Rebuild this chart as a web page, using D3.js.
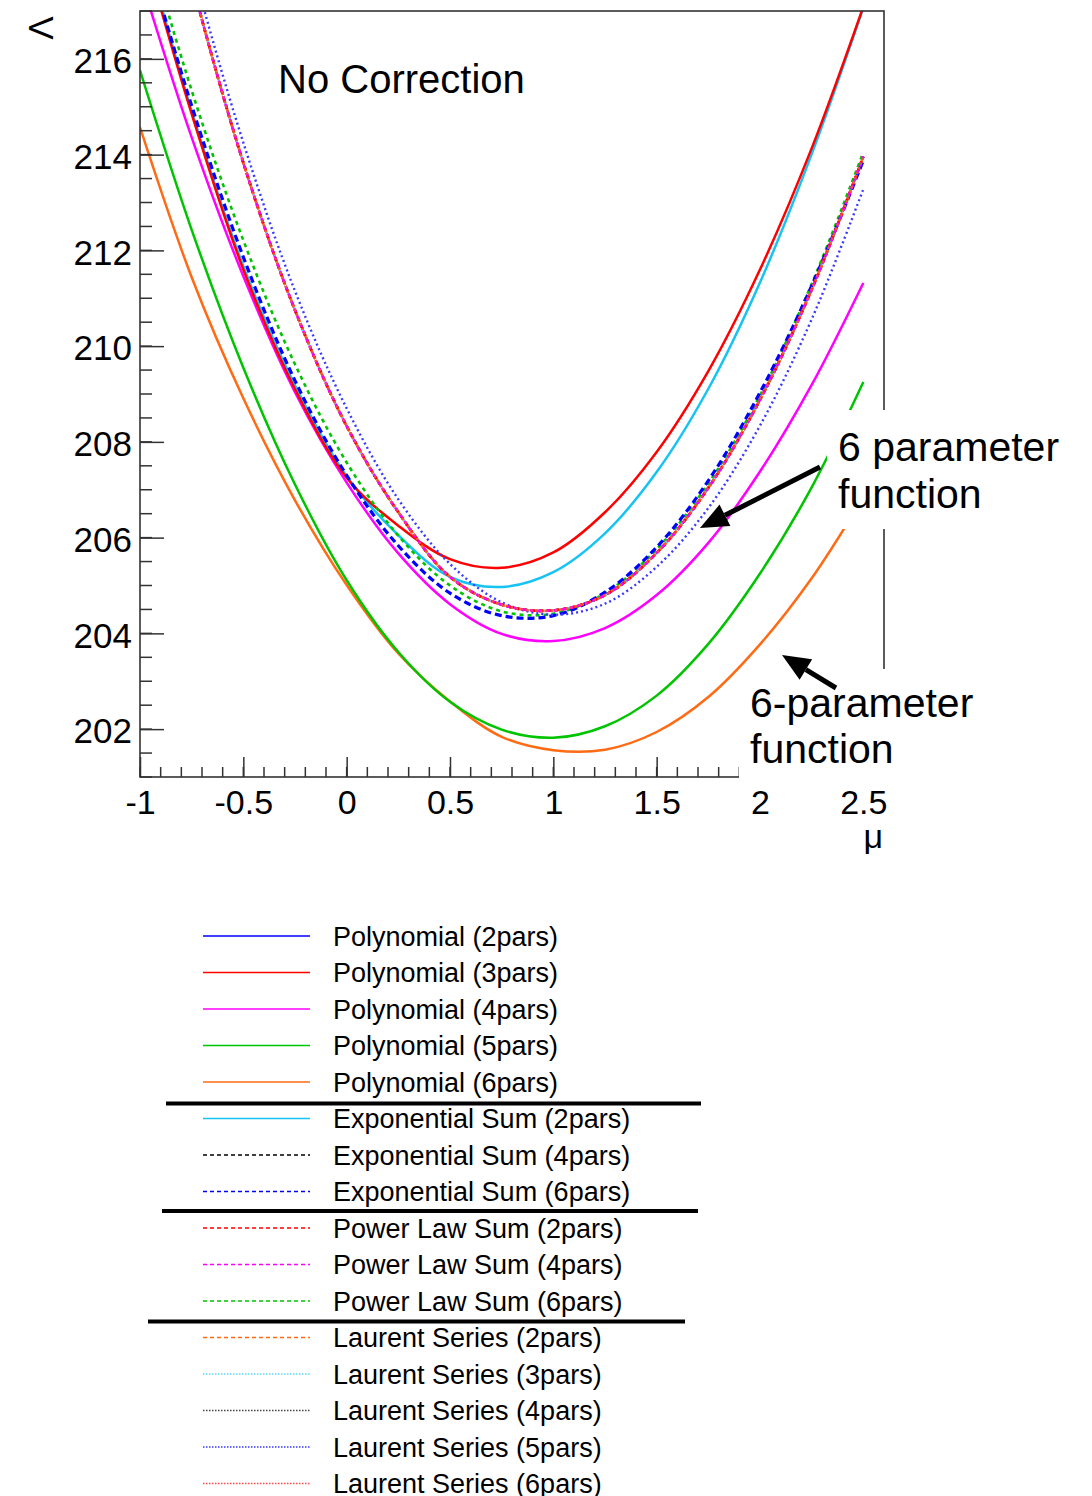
<!DOCTYPE html>
<html>
<head>
<meta charset="utf-8">
<script src="https://cdn.jsdelivr.net/npm/d3@7"></script>
<style>
  body { margin: 0; background: #fff; }
  svg text { font-family: "Liberation Sans", Arial, Helvetica, sans-serif; fill: #000; }
</style>
</head>
<body>
<div id="chart"></div>
<script>
// scan points in mu, shared by all curves
var mu = [-1, -0.75, -0.5, -0.25, 0, 0.25, 0.5, 0.75, 1, 1.25, 1.5, 1.75, 2, 2.25, 2.5];

// Lambda values (values above 217 are cut by the frame)
var poly2 = []; // lies above the plotted range, nothing visible
var poly3 = [218.60, 214.85, 211.60, 209.10, 207.25, 206.25, 205.55, 205.37, 205.69, 206.53, 207.79, 209.48, 211.60, 214.13, 217.09];
var poly4 = [217.74, 214.36, 211.46, 209.04, 207.15, 205.67, 204.61, 203.99, 203.84, 204.11, 204.80, 205.89, 207.38, 209.19, 211.32];
var poly5 = [215.76, 212.43, 209.55, 207.11, 205.11, 203.61, 202.57, 201.99, 201.82, 202.06, 202.70, 203.78, 205.25, 207.05, 209.25];
var poly6 = [214.57, 211.44, 208.91, 206.78, 205.01, 203.58, 202.58, 201.84, 201.56, 201.57, 201.94, 202.67, 203.77, 205.15, 206.84];
var exp2  = [218.73, 214.91, 211.67, 209.18, 207.28, 206.05, 205.18, 204.97, 205.28, 206.09, 207.37, 209.11, 211.33, 214.01, 217.07];
var exp4  = [221.96, 217.62, 213.83, 210.75, 208.33, 206.53, 205.18, 204.60, 204.48, 204.80, 205.68, 207.04, 208.88, 211.18, 213.96];
var exp6  = [218.65, 215.02, 211.86, 209.28, 207.30, 205.83, 204.84, 204.37, 204.37, 204.86, 205.80, 207.19, 209.03, 211.26, 213.88];
var pow2  = [221.96, 217.62, 213.83, 210.75, 208.33, 206.53, 205.18, 204.60, 204.48, 204.80, 205.68, 207.04, 208.88, 211.18, 213.96];
var pow4  = [221.96, 217.62, 213.83, 210.75, 208.33, 206.53, 205.18, 204.60, 204.48, 204.80, 205.68, 207.04, 208.88, 211.18, 213.96];
var pow6  = [218.99, 215.34, 212.21, 209.62, 207.57, 206.04, 205.00, 204.46, 204.41, 204.84, 205.76, 207.13, 208.97, 211.30, 214.05];
var laur2 = [221.96, 217.62, 213.83, 210.75, 208.33, 206.53, 205.18, 204.60, 204.48, 204.80, 205.68, 207.04, 208.88, 211.18, 213.96];
var laur3 = [221.96, 217.62, 213.83, 210.75, 208.33, 206.53, 205.18, 204.60, 204.48, 204.80, 205.68, 207.04, 208.88, 211.18, 213.96];
var laur4 = [221.96, 217.62, 213.83, 210.75, 208.33, 206.53, 205.18, 204.60, 204.48, 204.80, 205.68, 207.04, 208.88, 211.18, 213.96];
var laur5 = [222.30, 217.98, 214.25, 211.15, 208.70, 206.80, 205.45, 204.65, 204.39, 204.62, 205.39, 206.62, 208.34, 210.56, 213.28];
var laur6 = [221.96, 217.62, 213.83, 210.75, 208.33, 206.53, 205.18, 204.60, 204.48, 204.80, 205.68, 207.04, 208.88, 211.18, 213.96];

var names = ["Polynomial (2pars)", "Polynomial (3pars)", "Polynomial (4pars)", "Polynomial (5pars)", "Polynomial (6pars)",
             "Exponential Sum (2pars)", "Exponential Sum (4pars)", "Exponential Sum (6pars)",
             "Power Law Sum (2pars)", "Power Law Sum (4pars)", "Power Law Sum (6pars)",
             "Laurent Series (2pars)", "Laurent Series (3pars)", "Laurent Series (4pars)", "Laurent Series (5pars)", "Laurent Series (6pars)"];
var values = [poly2, poly3, poly4, poly5, poly6, exp2, exp4, exp6, pow2, pow4, pow6, laur2, laur3, laur4, laur5, laur6];

var xTicks = [-1, -0.5, 0, 0.5, 1, 1.5, 2, 2.5];
var yTicks = [202, 204, 206, 208, 210, 212, 214, 216];

// styles
var colors = ["#0000ff", "#ff0000", "#ff00ff", "#00c400", "#ff6a13", "#16c3f2", "#000000", "#0000ff",
              "#ff0000", "#ff00ff", "#00c400", "#ff6a13", "#5fd6ff", "#444444", "#3a3aff", "#ff4a4a"];
var kind = ["s", "s", "s", "s", "s", "s", "d", "d", "d", "d", "d", "d", "o", "o", "o", "o"];
// drawing order: lines hidden in the reference go first
var order = [0, 6, 12, 13, 4, 3, 2, 5, 1, 10, 7, 14, 11, 8, 9, 15];

var W = 1092, H = 1496;
var pLeft = 140, pRight = 884, pTop = 11, pBottom = 777;

var svg = d3.select("#chart").append("svg")
  .attr("width", W).attr("height", H);

var x = d3.scaleLinear().domain([-1, 2.6]).range([pLeft, pRight]);
var y = d3.scaleLinear().domain([201, 217]).range([pBottom, pTop]);

svg.append("clipPath").attr("id", "plotclip")
  .append("rect").attr("x", pLeft).attr("y", pTop)
  .attr("width", pRight - pLeft).attr("height", pBottom - pTop);

var line = d3.line()
  .x(function(d) { return x(d[0]); })
  .y(function(d) { return y(d[1]); })
  .curve(d3.curveCatmullRom.alpha(0.5));

var curves = svg.append("g").attr("clip-path", "url(#plotclip)");

order.forEach(function(i, k) {
  var pts = values[i].map(function(v, j) { return [mu[j], v]; });
  if (!pts.length) return;
  var p = curves.append("path")
    .attr("d", line(pts))
    .attr("fill", "none")
    .attr("stroke", colors[i]);
  if (kind[i] === "s") {
    p.attr("stroke-width", 2.5);
  } else if (kind[i] === "d") {
    p.attr("stroke-width", i === 7 ? 3.2 : 2.6)
     .attr("stroke-dasharray", i === 7 ? "7,4" : "4,4")
     .attr("stroke-dashoffset", (k % 3) * 1.5);
  } else {
    p.attr("stroke-width", 2.4)
     .attr("stroke-dasharray", "2,3")
     .attr("stroke-dashoffset", (k % 2) * 2);
  }
});

// frame
svg.append("rect")
  .attr("x", pLeft).attr("y", pTop)
  .attr("width", pRight - pLeft).attr("height", pBottom - pTop)
  .attr("fill", "none").attr("stroke", "#333").attr("stroke-width", 1.6);

// x axis
var xMinor = d3.range(-1, 2.601, 0.1);
svg.append("g").selectAll("line").data(xMinor).enter().append("line")
  .attr("x1", function(d) { return x(d); }).attr("x2", function(d) { return x(d); })
  .attr("y1", pBottom).attr("y2", pBottom - 10)
  .attr("stroke", "#333").attr("stroke-width", 1.5);

var xAxis = svg.append("g")
  .attr("transform", "translate(0," + pBottom + ")")
  .call(d3.axisBottom(x).tickValues(xTicks).tickSizeInner(-20).tickSizeOuter(0).tickPadding(13)
        .tickFormat(function(d) { return String(d); }));
xAxis.select(".domain").remove();
xAxis.selectAll(".tick line").attr("stroke", "#333").attr("stroke-width", 1.5);
xAxis.selectAll("text").attr("font-size", 34).attr("font-family", null);

// y axis
var yMinor = d3.range(201, 217.01, 0.5);
svg.append("g").selectAll("line").data(yMinor).enter().append("line")
  .attr("y1", function(d) { return y(d); }).attr("y2", function(d) { return y(d); })
  .attr("x1", pLeft).attr("x2", pLeft + 12)
  .attr("stroke", "#333").attr("stroke-width", 1.5);

var yAxis = svg.append("g")
  .attr("transform", "translate(" + pLeft + ",0)")
  .call(d3.axisLeft(y).tickValues(yTicks).tickSizeInner(-24).tickSizeOuter(0).tickPadding(8)
        .tickFormat(function(d) { return String(d); }));
yAxis.select(".domain").remove();
yAxis.selectAll(".tick line").attr("stroke", "#333").attr("stroke-width", 1.5);
yAxis.selectAll("text").attr("font-size", 35).attr("dy", "0.39em").attr("font-family", null);

// axis titles
svg.append("text").attr("x", 883).attr("y", 848)
  .attr("text-anchor", "end").attr("font-size", 34).text("μ");
svg.append("text").attr("transform", "translate(53,28) rotate(-90)")
  .attr("text-anchor", "middle").attr("font-size", 35).text("Λ");

// title
svg.append("text").attr("x", 278).attr("y", 93)
  .attr("font-size", 40).text("No Correction");

// annotation boxes (they hide the frame, as in the original)
svg.append("rect").attr("x", 827).attr("y", 410).attr("width", 265).attr("height", 119).attr("fill", "#fff");
svg.append("rect").attr("x", 739).attr("y", 669).attr("width", 300).attr("height", 109).attr("fill", "#fff");

function arrow(x1, y1, x2, y2) {
  var a = Math.atan2(y2 - y1, x2 - x1), len = 28, hw = 12;
  var bx = x2 - len * Math.cos(a), by = y2 - len * Math.sin(a);
  svg.append("line").attr("x1", x1).attr("y1", y1).attr("x2", bx).attr("y2", by)
    .attr("stroke", "#000").attr("stroke-width", 5);
  svg.append("path")
    .attr("d", "M" + x2 + "," + y2 +
      "L" + (bx + hw * Math.sin(a)) + "," + (by - hw * Math.cos(a)) +
      "L" + (bx - hw * Math.sin(a)) + "," + (by + hw * Math.cos(a)) + "Z")
    .attr("fill", "#000");
}
arrow(820, 467, 700, 528);
arrow(836, 688, 782, 655);

svg.append("text").attr("x", 838).attr("y", 461).attr("font-size", 41).text("6 parameter");
svg.append("text").attr("x", 838).attr("y", 508).attr("font-size", 41).text("function");
svg.append("text").attr("x", 750).attr("y", 717).attr("font-size", 41).text("6-parameter");
svg.append("text").attr("x", 750).attr("y", 763).attr("font-size", 41).text("function");

// legend
var rowY = d3.scaleLinear().domain([0, 15]).range([936, 1483.5]);
var leg = svg.append("g");
names.forEach(function(n, i) {
  var ly = rowY(i);
  var l = leg.append("line").attr("x1", 203).attr("x2", 310).attr("y1", ly).attr("y2", ly)
    .attr("stroke", colors[i]).attr("stroke-width", 1.6);
  if (kind[i] === "d") l.attr("stroke-dasharray", "4,3");
  if (kind[i] === "o") l.attr("stroke-dasharray", "1.5,1.5");
  leg.append("text").attr("x", 333).attr("y", ly + 9.5).attr("font-size", 27).text(n);
});

// group separators
[[166, 701, 1103.5], [162, 698, 1211], [148, 685, 1321.5]].forEach(function(s) {
  leg.append("line").attr("x1", s[0]).attr("x2", s[1]).attr("y1", s[2]).attr("y2", s[2])
    .attr("stroke", "#000").attr("stroke-width", 4);
});
</script>
</body>
</html>
